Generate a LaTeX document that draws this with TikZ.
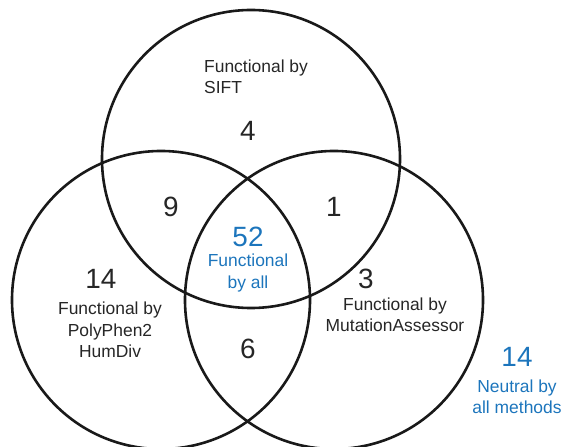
\documentclass[tikz,border=0pt]{standalone}
\usepackage{fontspec}
\setmainfont{Liberation Sans}
\begin{document}
\begin{tikzpicture}[x=1bp,y=-1bp,
  setline/.style={draw=black!90, line width=2.6bp},
  count/.style={font=\fontsize{28}{30}\selectfont, text=black!85, inner sep=0pt},
  lbl/.style={font=\fontsize{17.5}{21.5}\selectfont, text=black!85, inner sep=0pt, align=center},
  bluecount/.style={count, text=allblue},
  bluelbl/.style={lbl, text=allblue}]
\definecolor{allblue}{RGB}{28,117,188}
\useasboundingbox (0,0) rectangle (563,447);
% the three sets
\draw[setline] (251,159) circle[radius=149bp];
\draw[setline] (161,300) circle[radius=149bp];
\draw[setline] (334,300) circle[radius=149bp];
% set labels
\node[lbl, align=left, anchor=west] (sift) at (204,77) {Functional by\\SIFT};
\node[lbl] (pp) at (110,330) {Functional by\\PolyPhen2\\HumDiv};
\node[lbl] (ma) at (395,315) {Functional by\\MutationAssessor};
% region counts
\node[count] (n4) at (248,131) {4};
\node[count] (n9) at (171,207) {9};
\node[count] (n1) at (334,207) {1};
\node[count] (n14) at (101,279) {14};
\node[count] (n3) at (366,279) {3};
\node[count] (n6) at (248,349) {6};
% common to all
\node[bluecount] (n52) at (248,237) {52};
\node[bluelbl] (all) at (248,273) {Functional\\by all};
% outside every set
\node[bluecount] (n14b) at (517,357) {14};
\node[bluelbl] (neutral) at (517,397) {Neutral by\\all methods};
\end{tikzpicture}
\end{document}
